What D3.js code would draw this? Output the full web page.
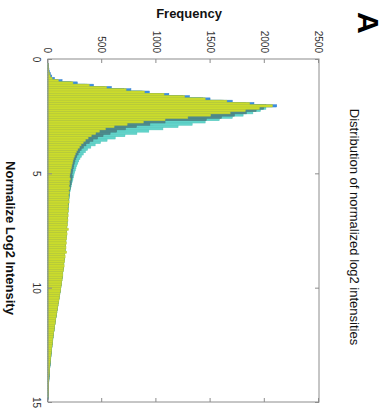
<!DOCTYPE html>
<html><head><meta charset="utf-8">
<script src="https://cdn.jsdelivr.net/npm/d3@7"></script>
<style>html,body{margin:0;padding:0;background:#fff;} svg{display:block;}</style>
</head><body>
<script>
// ---- data (histogram, bin width 0.1, bins start at 0) ----
const binWidth = 0.1;
const intensityTicks = [0, 5, 10, 15];
const freqTicks = [0, 500, 1000, 1500, 2000, 2500];
const titleText = "Distribution of normalized log2 intensities";
const xLabel = "Normalize Log2 Intensity";
const yLabel = "Frequency";
const panelLabel = "A";

const blueCounts = [0,0,2,5,9,14,22,35,60,130,270,420,585,765,935,1115,1305,1495,1700,1900,2110,
1960,1870,1750,1610,1450,1280,1120,970,840,730,640,570,510,460,420,385,358,335,315,298,285,273,263,254,246,239,233,228,224,220,
222,218,213,209,206,203,199,196,194,192,190,188,186,184,183,181,180,178,177,175,174,172,171,169,168,166,165,163,162,160,
159,157,155,153,152,150,148,146,144,142,140,137,135,132,130,127,124,121,118,115,112,108,105,101,98,94,91,87,84,80,
77,74,70,67,64,61,58,55,52,49,46,44,41,38,36,34,31,29,27,25,23,21,19,17,15,14,12,11,9,8,7,5,4,3,3,2,1,1,0];

const cyanCounts = [0,0,1,2,4,6,10,16,30,80,200,340,500,680,850,1030,1220,1410,1600,1800,1990,
2010,1960,1890,1800,1700,1580,1450,1330,1200,1060,930,820,710,620,545,485,435,395,365,345,325,308,295,284,275,266,258,252,246,240,
236,230,224,219,214,209,205,201,198,196,194,191,190,188,187,185,184,182,181,179,178,176,175,173,172,170,169,167,166,164,
163,161,159,157,155,153,151,149,147,145,142,140,137,135,132,129,126,123,120,117,113,110,106,103,99,96,92,89,85,82,
78,75,72,68,65,62,59,56,53,50,47,45,42,40,37,35,33,30,28,26,24,22,20,18,16,14,13,11,10,8,7,6,5,4,3,2,1,1,0];

const tealCounts = [0,0,1,2,4,7,11,18,34,88,215,360,520,700,870,1050,1240,1430,1620,1820,2010,
1990,1920,1830,1720,1600,1460,1080,940,816,715,634,573,508,457,415,381,350,327,306,291,278,266,257,249,243,238,233,229,225,221,
224,220,216,214,209,205,201,198,195,193,191,189,187,186,184,183,181,180,178,177,175,174,172,171,169,168,166,165,163,162,
160,158,157,155,153,151,149,147,145,143,141,138,136,133,131,128,125,122,119,116,113,109,106,102,99,95,92,88,85,82,
78,75,71,68,65,62,59,56,53,50,47,44,42,39,37,34,32,30,28,26,24,22,20,18,16,14,13,11,10,8,7,6,5,4,3,2,1,1,0];

const yellowCounts = [0,0,1,2,5,8,12,20,38,95,230,380,540,720,890,1070,1260,1450,1650,1860,2070,
1950,1820,1680,1500,1290,1080,880,730,610,530,475,440,400,370,345,325,305,290,275,262,252,244,236,230,225,220,215,210,206,202,
200,205,196,199,194,201,192,196,190,193,187,195,185,189,183,190,181,186,179,184,176,182,174,188,171,176,168,173,165,170,
162,166,158,172,155,158,150,154,146,149,141,143,136,137,131,130,126,124,120,118,114,110,108,103,101,96,93,89,86,82,
79,75,72,68,66,62,59,56,53,50,47,44,42,39,37,34,32,29,27,25,22,20,18,16,14,12,11,9,8,7,5,4,3,3,2,1,1,0,0];

const seriesNames = ["blue", "cyan", "teal", "yellow"];
const seriesCounts = [blueCounts, cyanCounts, tealCounts, yellowCounts];
const seriesFill = ["#3d8fe0", "#62d4ca", "#4f8a8c", "#cbdc2c"];
const seriesStroke = ["#3580d0", "#52c6bc", "#47807f", "#b9ca3a"];

// ---- drawing ----
const W = 389, H = 415;
const svg = d3.select("body").append("svg").attr("width", W).attr("height", H)
  .style("font-family", "'Liberation Sans', Arial, Helvetica, sans-serif");
svg.append("rect").attr("width", W).attr("height", H).attr("fill", "#fff");

// whole figure rotated 90 degrees clockwise
const g = svg.append("g").attr("transform", `translate(${W},0) rotate(90)`);

const x = d3.scaleLinear().domain([0, 15]).range([59, 402]);
const y = d3.scaleLinear().domain([0, 2500]).range([341, 70]);

seriesCounts.forEach((counts, s) => {
  g.append("g").selectAll("rect").data(counts).join("rect")
    .attr("x", (d, i) => x(i * binWidth))
    .attr("width", x(binWidth) - x(0))
    .attr("y", d => y(d))
    .attr("height", d => y(0) - y(d))
    .attr("fill", seriesFill[s])
    .attr("stroke", seriesStroke[s])
    .attr("stroke-width", 0.5);
});

// box
g.append("rect").attr("x", x(0)).attr("y", y(2500))
  .attr("width", x(15) - x(0)).attr("height", y(0) - y(2500))
  .attr("fill", "none").attr("stroke", "#8c8c8c").attr("stroke-width", 1);

function styleAxis(sel) {
  sel.select(".domain").remove();
  sel.selectAll(".tick line").attr("stroke", "#8c8c8c");
  sel.selectAll(".tick text").attr("fill", "#333").style("font-size", "10px")
    .style("font-family", "'Liberation Sans', Arial, Helvetica, sans-serif");
}

g.append("g").attr("transform", `translate(0,${y(0)})`)
  .call(d3.axisBottom(x).tickValues(intensityTicks).tickSizeInner(-4).tickSizeOuter(0).tickPadding(8).tickFormat(d3.format("d")))
  .call(styleAxis);
g.append("g").attr("transform", `translate(0,${y(2500)})`)
  .call(d3.axisTop(x).tickValues(intensityTicks).tickSizeInner(-4).tickSizeOuter(0).tickFormat(""))
  .call(styleAxis);
g.append("g").attr("transform", `translate(${x(0)},0)`)
  .call(d3.axisLeft(y).tickValues(freqTicks).tickSizeInner(-4).tickSizeOuter(0).tickPadding(6).tickFormat(d3.format("d")))
  .call(styleAxis);
g.append("g").attr("transform", `translate(${x(15)},0)`)
  .call(d3.axisRight(y).tickValues(freqTicks).tickSizeInner(-4).tickSizeOuter(0).tickFormat(""))
  .call(styleAxis);

// labels
g.append("text").attr("x", 238).attr("y", 383).attr("text-anchor", "middle")
  .style("font-size", "13px").style("font-weight", "bold").attr("fill", "#111").text(xLabel);
g.append("text").attr("transform", "translate(18,200) rotate(-90)").attr("text-anchor", "middle")
  .style("font-size", "13px").style("font-weight", "bold").attr("fill", "#111").text(yLabel);
g.append("text").attr("x", 227).attr("y", 39).attr("text-anchor", "middle")
  .style("font-size", "13px").attr("fill", "#111").text(titleText);
g.append("text").attr("x", 12).attr("y", 31)
  .style("font-size", "30px").style("font-weight", "bold").attr("fill", "#000").text(panelLabel);
</script>
</body></html>
